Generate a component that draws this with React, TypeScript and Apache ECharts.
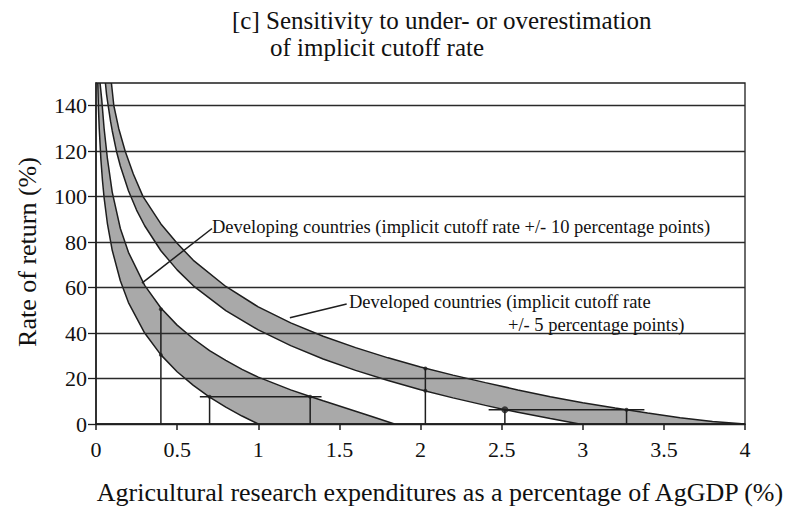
import React, { useEffect, useRef } from 'react';
import * as echarts from 'echarts';

// Developing countries band (implicit cutoff rate +/- 10 points)
const devUpper: [number, number][] = [
  [0.025, 150], [0.035, 143], [0.05, 130], [0.07, 117], [0.1, 102], [0.15, 86], [0.2, 75.5],
  [0.3, 61], [0.4, 51], [0.5, 43.5], [0.6, 37.5], [0.7, 32.3], [0.8, 28], [0.9, 24],
  [1.0, 20.6], [1.2, 15], [1.32, 12.1], [1.4, 10.2], [1.6, 5.6], [1.7, 3.3], [1.84, 0],
];
const devLower: [number, number][] = [
  [0.011, 150], [0.015, 139], [0.02, 130], [0.03, 116.5], [0.04, 107], [0.05, 99.5], [0.07, 88.3],
  [0.1, 76.4], [0.15, 63], [0.2, 53.4], [0.3, 40], [0.4, 30.4], [0.5, 23], [0.6, 17],
  [0.7, 11.8], [0.8, 7.4], [0.9, 3.5], [1.0, 0],
];
// Developed countries band (implicit cutoff rate +/- 5 points)
const dvdUpper: [number, number][] = [
  [0.095, 150], [0.11, 140], [0.14, 130], [0.18, 120], [0.23, 110], [0.29, 100], [0.4, 88],
  [0.5, 79.5], [0.6, 72], [0.8, 60.5], [1.0, 51.5], [1.2, 44.5], [1.4, 38.6], [1.6, 33.6],
  [1.8, 29.1], [2.0, 25.1], [2.2, 21.5], [2.4, 18.2], [2.6, 15], [2.8, 12], [3.0, 9.3],
  [3.2, 7.0], [3.4, 4.8], [3.6, 2.8], [3.8, 1.1], [4.0, 0],
];
const dvdLower: [number, number][] = [
  [0.058, 150], [0.065, 145], [0.075, 140], [0.09, 133], [0.1, 129], [0.126, 120], [0.15, 113.5],
  [0.2, 102.6], [0.25, 94.1], [0.3, 87.2], [0.4, 76.2], [0.5, 67.8], [0.6, 60.8], [0.8, 49.9],
  [1.0, 41.4], [1.2, 34.5], [1.4, 28.6], [1.6, 23.6], [1.8, 19.1], [2.0, 15.1], [2.2, 11.5],
  [2.4, 8.2], [2.52, 6.3], [2.6, 5.2], [2.8, 2.4], [2.98, 0],
];

// Reference segments (drop lines and horizontal ranges)
const markerSegments: [number, number][][] = [
  [[0.4, 0], [0.4, 50.5]],
  [[0.64, 12], [1.39, 12]],
  [[0.7, 0], [0.7, 12]],
  [[1.32, 0], [1.32, 12]],
  [[2.03, 0], [2.03, 24.4]],
  [[2.42, 6.3], [3.38, 6.3]],
  [[2.52, 0], [2.52, 6.3]],
  [[3.27, 0], [3.27, 6.3]],
];
const smallDots: [number, number][] = [
  [0.4, 50.5], [0.4, 30.4], [0.7, 12], [1.32, 12], [2.03, 24.4], [2.03, 14.6], [3.27, 6.3],
];
const bigDots: [number, number][] = [[2.52, 6.3]];
const leaderDeveloping: [number, number][] = [[0.283, 62], [0.715, 86]];
const leaderDeveloped: [number, number][] = [[1.195, 46.7], [1.545, 52.8]];

const yTickValues = [0, 20, 40, 60, 80, 100, 120, 140];

const titleLine1 = '[c] Sensitivity to under- or overestimation';
const titleLine2 = 'of implicit cutoff rate';
const xName = 'Agricultural research expenditures as a percentage of AgGDP (%)';
const yName = 'Rate of return (%)';
const noteDeveloping = 'Developing countries (implicit cutoff rate +/- 10 percentage points)';
const noteDeveloped1 = 'Developed countries (implicit cutoff rate';
const noteDeveloped2 = '+/- 5 percentage points)';

const FONT = 'Liberation Serif';
const INK = '#1e1e1e';
const FILL = '#a9a9a9';

function bandSeries(upper: [number, number][], lower: [number, number][]) {
  const poly = [...upper, ...lower.slice().reverse()];
  return {
    type: 'custom',
    silent: true,
    clip: true,
    z: 1,
    data: [[0, 0]],
    renderItem: (_params: any, api: any) => ({
      type: 'polygon',
      shape: { points: poly.map((p) => api.coord(p)) },
      style: { fill: FILL, stroke: null },
    }),
  };
}

function curveSeries(data: [number, number][]) {
  return {
    type: 'line',
    data,
    showSymbol: false,
    symbol: 'none',
    silent: true,
    z: 3,
    lineStyle: { color: INK, width: 1.5 },
  };
}

export default function App() {
  const ref = useRef<HTMLDivElement>(null);
  useEffect(() => {
    document.body.style.margin = '0';
    if (!ref.current) return;
    const chart = echarts.init(ref.current, undefined, { renderer: 'svg' });
    const series: any[] = [
      bandSeries(dvdUpper, dvdLower),
      bandSeries(devUpper, devLower),
      curveSeries(devUpper),
      curveSeries(devLower),
      curveSeries(dvdUpper),
      curveSeries(dvdLower),
      ...markerSegments.map((seg) => ({
        type: 'line',
        data: seg,
        symbol: 'none',
        silent: true,
        z: 3,
        lineStyle: { color: INK, width: 1.5 },
      })),
      curveSeries(leaderDeveloping),
      curveSeries(leaderDeveloped),
      {
        type: 'scatter',
        data: smallDots,
        symbolSize: 4,
        itemStyle: { color: INK },
        silent: true,
        z: 4,
      },
      {
        type: 'scatter',
        data: bigDots,
        symbolSize: 7,
        itemStyle: { color: INK },
        silent: true,
        z: 4,
      },
    ];
    chart.setOption({
      animation: false,
      backgroundColor: '#ffffff',
      textStyle: { fontFamily: FONT },
      grid: {
        left: 96,
        right: 47,
        top: 83,
        bottom: 91,
        show: true,
        borderColor: INK,
        borderWidth: 1.3,
        z: 6,
      },
      xAxis: {
        type: 'value',
        min: 0,
        max: 4,
        interval: 0.5,
        z: 6,
        axisLine: { show: true, lineStyle: { color: INK, width: 1.5 } },
        axisTick: { show: true, inside: false, length: 6, lineStyle: { color: INK, width: 1.5 } },
        axisLabel: { fontFamily: FONT, fontSize: 22, color: '#111', margin: 14 },
        splitLine: { show: false },
      },
      yAxis: {
        type: 'value',
        min: 0,
        max: 150,
        z: 6,
        axisLine: { show: true, lineStyle: { color: INK, width: 1.5 } },
        axisTick: {
          show: true,
          inside: false,
          length: 8,
          customValues: yTickValues,
          lineStyle: { color: INK, width: 1.3 },
        },
        axisLabel: {
          fontFamily: FONT,
          fontSize: 22,
          color: '#111',
          margin: 9,
          customValues: yTickValues,
        },
        splitLine: { show: true, lineStyle: { color: '#2a2a2a', width: 1.3 } },
      },
      graphic: [
        {
          type: 'text',
          x: 232,
          y: 20,
          style: { text: titleLine1, fontFamily: FONT, fontSize: 25, fill: '#111', verticalAlign: 'middle' },
        },
        {
          type: 'text',
          x: 270,
          y: 47,
          style: { text: titleLine2, fontFamily: FONT, fontSize: 25, fill: '#111', verticalAlign: 'middle' },
        },
        {
          type: 'text',
          x: 440,
          y: 492,
          style: { text: xName, fontFamily: FONT, fontSize: 26, fill: '#111', align: 'center', verticalAlign: 'middle' },
        },
        {
          type: 'text',
          x: 27,
          y: 252,
          rotation: Math.PI / 2,
          style: { text: yName, fontFamily: FONT, fontSize: 26, fill: '#111', align: 'center', verticalAlign: 'middle' },
        },
        {
          type: 'text',
          x: 212,
          y: 227,
          z: 10,
          style: { text: noteDeveloping, fontFamily: FONT, fontSize: 18.5, fill: '#111', verticalAlign: 'middle' },
        },
        {
          type: 'text',
          x: 349,
          y: 302,
          z: 10,
          style: { text: noteDeveloped1, fontFamily: FONT, fontSize: 18.5, fill: '#111', verticalAlign: 'middle' },
        },
        {
          type: 'text',
          x: 508,
          y: 325,
          z: 10,
          style: { text: noteDeveloped2, fontFamily: FONT, fontSize: 18.5, fill: '#111', verticalAlign: 'middle' },
        },
      ],
      series,
    });
    return () => chart.dispose();
  }, []);
  return <div ref={ref} style={{ width: 792, height: 515 }} />;
}
